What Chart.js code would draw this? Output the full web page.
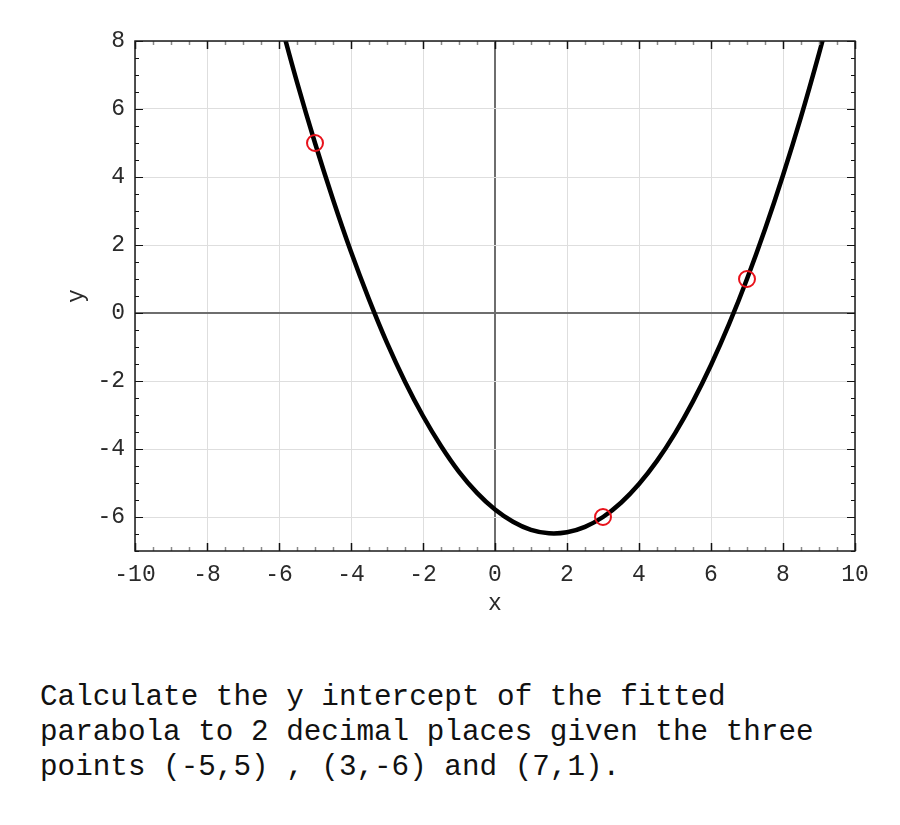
<!DOCTYPE html>
<html>
<head>
<meta charset="utf-8">
<script src="https://cdn.jsdelivr.net/npm/chart.js@4"></script>
<style>
  html, body { margin:0; padding:0; background:#fff; }
  #wrap { position:absolute; left:0; top:0; width:900px; height:640px; }
  #question { position:absolute; left:40px; top:680px; font-family:"Liberation Mono", monospace; font-size:29.3px; line-height:35px; color:#111; white-space:pre; }
</style>
</head>
<body>
<div id="wrap"><canvas id="c"></canvas></div>
<div id="question">Calculate the y intercept of the fitted
parabola to 2 decimal places given the three
points (-5,5) , (3,-6) and (7,1).</div>
<script>
// ---- data ----
const curveX = [-6,-5.5,-5,-4.5,-4,-3.5,-3,-2.5,-2,-1.5,-1,-0.5,0,0.5,1,1.5,2,2.5,3,3.5,4,4.5,5,5.5,6,6.5,7,7.5,8,8.5,9,9.5];
const curveY = [8.72,6.79,5.00,3.34,1.80,0.40,-0.88,-2.02,-3.03,-3.91,-4.67,-5.29,-5.78,-6.14,-6.38,-6.48,-6.45,-6.29,-6.00,-5.58,-5.03,-4.35,-3.54,-2.60,-1.53,-0.33,1.00,2.46,4.05,5.77,7.63,9.61];
const pointsX = [-5, 3, 7];
const pointsY = [5, -6, 1];
const xTickValues = [-10,-8,-6,-4,-2,0,2,4,6,8,10];
const yTickValues = [-6,-4,-2,0,2,4,6,8];
const xRange = [-10, 10];
const yRange = [-7, 8];
const xLabel = 'x';
const yLabel = 'y';

const FONT = "'Liberation Mono', 'Courier New', monospace";

const frameTicks = {
  id: 'frameTicks',
  afterDraw(chart) {
    const {ctx, chartArea: a, scales: {x, y}} = chart;
    ctx.save();
    const major = 8, minor = 4;
    for (let v = xRange[0]; v <= xRange[1] + 1e-9; v += 0.5) {
      const px = Math.round(x.getPixelForValue(v)) + 0.5;
      const isMaj = xTickValues.includes(v);
      ctx.strokeStyle = isMaj ? '#111' : '#8a8a8a';
      ctx.lineWidth = 1.5;
      const L = isMaj ? major : minor;
      ctx.beginPath();
      ctx.moveTo(px, a.bottom); ctx.lineTo(px, a.bottom - L);
      ctx.moveTo(px, a.top); ctx.lineTo(px, a.top + L);
      ctx.stroke();
    }
    for (let v = yRange[0]; v <= yRange[1] + 1e-9; v += 0.5) {
      const py = Math.round(y.getPixelForValue(v)) + 0.5;
      const isMaj = yTickValues.includes(v);
      ctx.strokeStyle = '#111';
      ctx.lineWidth = 1.2;
      const L = isMaj ? major : minor;
      ctx.beginPath();
      ctx.moveTo(a.left, py); ctx.lineTo(a.left + L, py);
      ctx.moveTo(a.right, py); ctx.lineTo(a.right - L, py);
      ctx.stroke();
    }
    ctx.strokeStyle = '#1a1a1a';
    ctx.lineWidth = 1.5;
    ctx.strokeRect(a.left, a.top, a.right - a.left, a.bottom - a.top);
    ctx.restore();
  }
};

new Chart(document.getElementById('c'), {
  data: {
    datasets: [
      {
        type: 'line',
        data: curveX.map((v, i) => ({x: v, y: curveY[i]})),
        borderColor: '#000',
        borderWidth: 4.5,
        pointRadius: 0,
        tension: 0.4,
        fill: false,
        clip: 0,
        order: 2
      },
      {
        type: 'scatter',
        data: pointsX.map((v, i) => ({x: v, y: pointsY[i]})),
        borderColor: '#e8121b',
        backgroundColor: 'rgba(0,0,0,0)',
        borderWidth: 2,
        pointRadius: 8,
        pointHoverRadius: 8,
        order: 1
      }
    ]
  },
  options: {
    responsive: true,
    maintainAspectRatio: false,
    animation: false,
    events: [],
    layout: { padding: { left: 0, right: 45, top: 41, bottom: 0 } },
    plugins: { legend: { display: false }, tooltip: { enabled: false } },
    scales: {
      x: {
        type: 'linear',
        min: xRange[0], max: xRange[1],
        afterBuildTicks: s => { s.ticks = xTickValues.map(v => ({value: v})); },
        afterFit: s => { s.height = 89; },
        ticks: { font: { family: FONT, size: 23 }, color: '#2a2a2a', padding: 10, maxRotation: 0, autoSkip: false },
        grid: {
          drawTicks: false,
          color: c => c.tick && c.tick.value === 0 ? '#6e6e6e' : '#dedede',
          lineWidth: c => c.tick && c.tick.value === 0 ? 2 : 1
        },
        border: { display: false },
        title: { display: true, text: xLabel, font: { family: FONT, size: 23 }, color: '#2a2a2a', padding: { top: 0, bottom: 22 } }
      },
      y: {
        type: 'linear',
        min: yRange[0], max: yRange[1],
        afterBuildTicks: s => { s.ticks = yTickValues.map(v => ({value: v})); },
        afterFit: s => { s.width = 135; },
        ticks: { font: { family: FONT, size: 23 }, color: '#2a2a2a', padding: 10 },
        grid: {
          drawTicks: false,
          color: c => c.tick && c.tick.value === 0 ? '#6e6e6e' : '#dedede',
          lineWidth: c => c.tick && c.tick.value === 0 ? 2 : 1
        },
        border: { display: false },
        title: { display: true, text: yLabel, font: { family: FONT, size: 23 }, color: '#2a2a2a', padding: { top: 63, bottom: 0 } }
      }
    }
  },
  plugins: [frameTicks]
});
</script>
</body>
</html>
